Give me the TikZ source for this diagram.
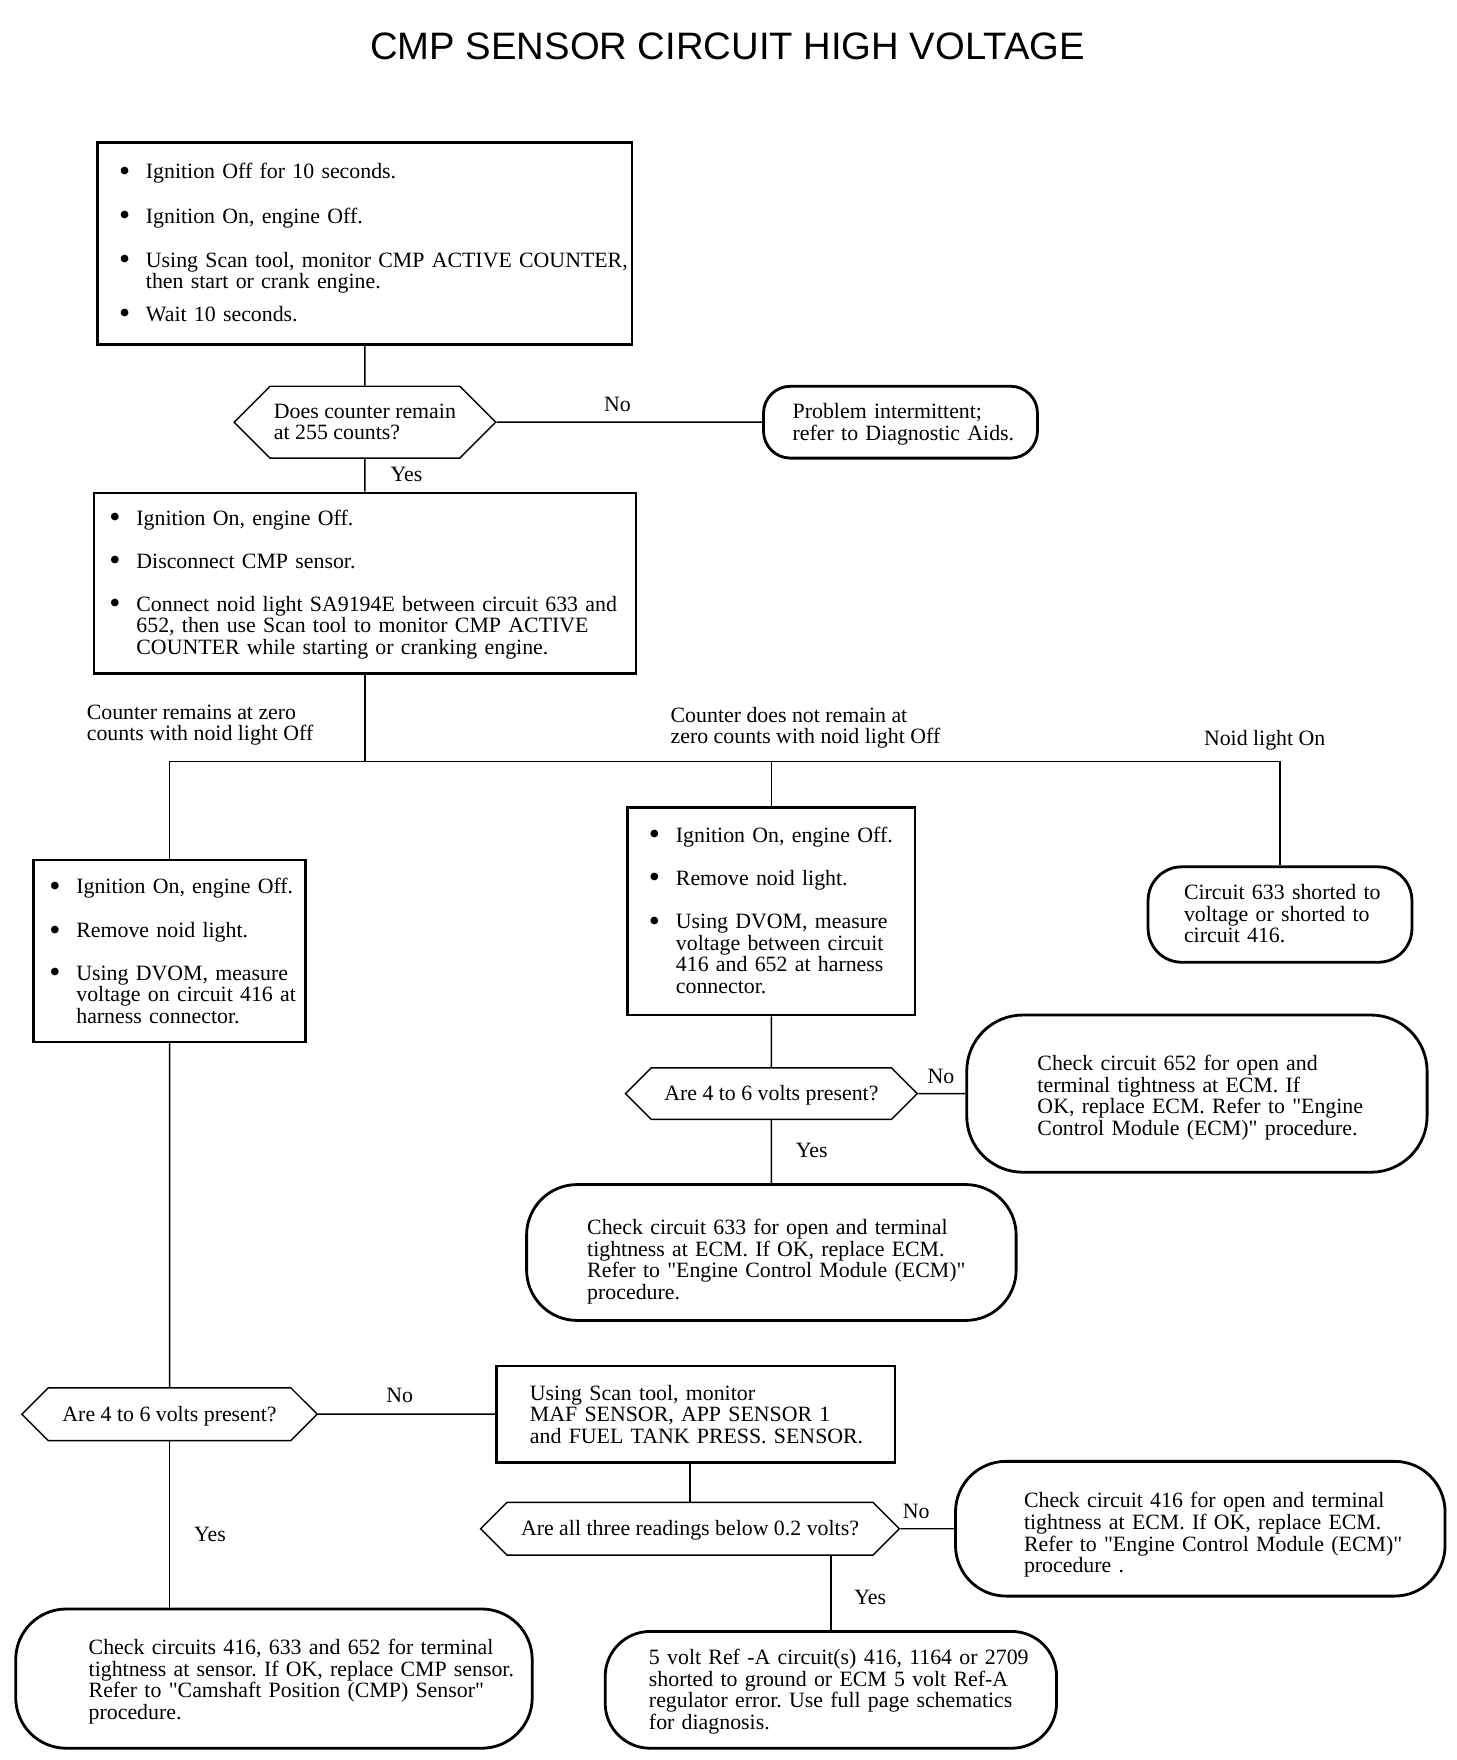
\documentclass[tikz,border=0pt]{standalone}
\usepackage{fontspec}
\setmainfont{Liberation Serif}[Ligatures=TeXOff]
\newfontfamily\titlefont{Liberation Sans}
\usepackage{array}
\usetikzlibrary{shapes.symbols, positioning, calc}
\frenchspacing

\newlength{\dpx}\setlength{\dpx}{0.0224cm}
\newcommand{\blt}{\raisebox{-1.3pt}{\fontsize{18}{12}\selectfont\textbullet}}
% optional argument: extra room above the first line (pushes the text down by half of it)
\newcommand{\stepitems}[2][5\dpx]{\rule{0pt}{\dimexpr0.7\baselineskip+#1\relax}\begin{tabular}[t]{@{}p{24\dpx}@{}l@{}}#2\end{tabular}}
\newcommand{\textlines}[2][5\dpx]{\rule{0pt}{\dimexpr0.7\baselineskip+#1\relax}\begin{tabular}[t]{@{}l@{}}#2\end{tabular}}

\begin{document}
\begin{tikzpicture}[x=0.0224cm, y=-0.0224cm,
    every node/.style={font=\fontsize{12.4}{12.1}\selectfont},
    stepbox/.style={rectangle, draw, line width=1.4pt, align=left, inner ysep=0pt},
    endbox/.style={rectangle, draw, line width=1.6pt, rounded corners=40\dpx, align=left, inner ysep=0pt},
    query/.style={signal, signal to=east and west, draw, line width=0.8pt, inner sep=0pt, align=left},
    lbl/.style={inner sep=0pt, align=left},
    wire/.style={line width=0.8pt}
]
    \useasboundingbox (0,0) rectangle (1297,1567.5);

    % Title
    \node[font=\titlefont\fontsize{21.7}{26}\selectfont] (title) at (648,41) {CMP SENSOR CIRCUIT HIGH VOLTAGE};

    % First check
    \node[stepbox, minimum width=476\dpx, minimum height=180\dpx, text width=438\dpx, inner xsep=19\dpx] (setup) at (325,217) {\stepitems[4\dpx]{%
        \blt & Ignition Off for 10 seconds.\\[20\dpx]
        \blt & Ignition On, engine Off.\\[20\dpx]
        \blt & Using Scan tool, monitor CMP ACTIVE COUNTER,\\
        & then start or crank engine.\\[10\dpx]
        \blt & Wait 10 seconds.}};
    \node[query, minimum width=233\dpx, minimum height=64\dpx] (counts) at (325,376) {\textlines{Does counter remain\\at 255 counts?}};
    \node[endbox, rounded corners=24\dpx, minimum width=244\dpx, minimum height=64\dpx, text width=192\dpx, inner xsep=26\dpx] (intermit) at (802,376) {\textlines{Problem intermittent;\\refer to Diagnostic Aids.}};

    \draw[wire] (setup) -- (counts);
    \draw[wire] (counts) -- (intermit);
    \node[lbl] (no1) at (550,360) {No};
    \node[lbl] (yes1) at (362,423) {Yes};

    % Noid light test
    \node[stepbox, minimum width=483\dpx, minimum height=161\dpx, text width=455\dpx, inner xsep=14\dpx] (noid) at (325,519.5) {\stepitems[4\dpx]{%
        \blt & Ignition On, engine Off.\\[19\dpx]
        \blt & Disconnect CMP sensor.\\[19\dpx]
        \blt & Connect noid light SA9194E between circuit 633 and\\
        & 652, then use Scan tool to monitor CMP ACTIVE\\
        & COUNTER while starting or cranking engine.}};
    \draw[wire] (counts) -- (noid);

    % Three outcomes
    \coordinate (split) at (325,678);
    \coordinate (jl) at (151,678);
    \coordinate (jm) at (687,678);
    \coordinate (jr) at (1140,678);
    \draw[wire] (noid) -- (split);
    \draw[wire] (jl) -- (jr);
    \node[lbl, anchor=west] (zero) at (77,646) {Counter remains at zero\\counts with noid light Off};
    \node[lbl, anchor=west] (notzero) at (597,648) {Counter does not remain at\\zero counts with noid light Off};
    \node[lbl, anchor=west] (lighton) at (1072,659) {Noid light On};

    \node[stepbox, minimum width=242\dpx, minimum height=162\dpx, text width=214\dpx, inner xsep=14\dpx] (volt416) at (151,847) {\stepitems[6\dpx]{%
        \blt & Ignition On, engine Off.\\[20\dpx]
        \blt & Remove noid light.\\[19\dpx]
        \blt & Using DVOM, measure\\
        & voltage on circuit 416 at\\
        & harness connector.}};
    \node[stepbox, minimum width=256\dpx, minimum height=185\dpx, text width=218\dpx, inner xsep=19\dpx] (voltpair) at (687,811.5) {\stepitems[4\dpx]{%
        \blt & Ignition On, engine Off.\\[19\dpx]
        \blt & Remove noid light.\\[20\dpx]
        \blt & Using DVOM, measure\\
        & voltage between circuit\\
        & 416 and 652 at harness\\
        & connector.}};
    \node[endbox, rounded corners=30\dpx, minimum width=235\dpx, minimum height=85\dpx, text width=171\dpx, inner xsep=32\dpx] (short633) at (1140,814.5) {\textlines[4\dpx]{Circuit 633 shorted to\\voltage or shorted to\\circuit 416.}};

    \draw[wire] (jl) -- (volt416);
    \draw[wire] (jm) -- (voltpair);
    \draw[wire] (jr) -- (short633);

    % Middle branch
    \node[query, minimum width=260\dpx, minimum height=46\dpx] (present2) at (687,974) {\textlines{Are 4 to 6 volts present?}};
    \node[endbox, rounded corners=50\dpx, minimum width=410\dpx, minimum height=140\dpx, text width=284\dpx, inner xsep=63\dpx] (open652) at (1066,974) {\textlines[9\dpx]{Check circuit 652 for open and\\terminal tightness at ECM. If\\OK, replace ECM. Refer to "Engine\\Control Module (ECM)" procedure.}};
    \node[endbox, rounded corners=45\dpx, minimum width=436\dpx, minimum height=121\dpx, text width=328\dpx, inner xsep=54\dpx] (open633) at (687,1115.5) {\textlines[18\dpx]{Check circuit 633 for open and terminal\\tightness at ECM. If OK, replace ECM.\\Refer to "Engine Control Module (ECM)"\\procedure.}};

    \draw[wire] (voltpair) -- (present2);
    \draw[wire] (present2) -- (open652);
    \draw[wire] (present2) -- (open633);
    \node[lbl] (no2) at (838,959) {No};
    \node[lbl] (yes2) at (723,1025) {Yes};

    % Left branch
    \node[query, minimum width=263\dpx, minimum height=47\dpx] (present1) at (151,1259.5) {\textlines{Are 4 to 6 volts present?}};
    \node[stepbox, minimum width=355\dpx, minimum height=86\dpx, text width=295\dpx, inner xsep=30\dpx] (scan) at (619.5,1259.5) {\textlines[6\dpx]{Using Scan tool, monitor\\MAF SENSOR, APP SENSOR 1\\and FUEL TANK PRESS. SENSOR.}};
    \node[endbox, rounded corners=45\dpx, minimum width=460\dpx, minimum height=124\dpx, text width=330\dpx, inner xsep=65\dpx] (sensor) at (244,1495) {\textlines[7\dpx]{Check circuits 416, 633 and 652 for terminal\\tightness at sensor. If OK, replace CMP sensor.\\Refer to "Camshaft Position (CMP) Sensor"\\procedure.}};

    \draw[wire] (volt416) -- (present1);
    \draw[wire] (present1) -- (scan);
    \draw[wire] (present1.south) -- (present1.south |- sensor.north);
    \node[lbl] (no3) at (356,1243) {No};
    \node[lbl] (yes3) at (187,1367) {Yes};

    % Scan tool readings
    \node[query, minimum width=373\dpx, minimum height=47\dpx] (below) at (614.5,1361.5) {\textlines{Are all three readings below 0.2 volts?}};
    \node[endbox, rounded corners=45\dpx, minimum width=436\dpx, minimum height=120\dpx, text width=314\dpx, inner xsep=61\dpx] (open416) at (1069,1361.5) {\textlines[13\dpx]{Check circuit 416 for open and terminal\\tightness at ECM. If OK, replace ECM.\\Refer to "Engine Control Module (ECM)"\\procedure .}};
    \node[endbox, rounded corners=40\dpx, minimum width=402\dpx, minimum height=104\dpx, text width=324\dpx, inner xsep=39\dpx] (refA) at (740,1505) {\textlines[5\dpx]{5 volt Ref -A circuit(s) 416, 1164 or 2709\\shorted to ground or ECM 5 volt Ref-A\\regulator error. Use full page schematics\\for diagnosis.}};

    \draw[wire] (scan.south -| below.north) -- (below.north);
    \draw[wire] (below) -- (open416);
    \draw[wire] (below.south -| refA.north) -- (refA.north);
    \node[lbl] (no4) at (816,1346) {No};
    \node[lbl] (yes4) at (775,1423) {Yes};
\end{tikzpicture}
\end{document}
